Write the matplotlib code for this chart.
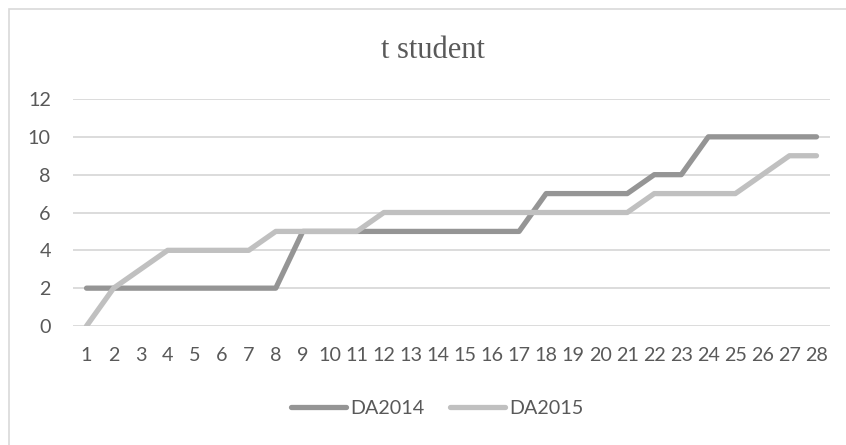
import matplotlib
matplotlib.use("Agg")
import matplotlib.pyplot as plt
from matplotlib.patches import Rectangle

# series data
days = list(range(1, 29))
da2014 = [2, 2, 2, 2, 2, 2, 2, 2, 5, 5, 5, 5, 5, 5, 5, 5, 5, 7, 7, 7, 7, 8, 8, 10, 10, 10, 10, 10]
da2015 = [0, 2, 3, 4, 4, 4, 4, 5, 5, 5, 5, 6, 6, 6, 6, 6, 6, 6, 6, 6, 6, 7, 7, 7, 7, 8, 9, 9]
y_ticks = [0, 2, 4, 6, 8, 10, 12]

W, H = 846, 445
fig = plt.figure(figsize=(W / 100, H / 100), dpi=100)

# light frame around the chart area
fig.patches.append(Rectangle((9 / W, -0.1), 1.2, 1 - 9 / H + 0.1, transform=fig.transFigure,
                             fill=False, edgecolor="#d9d9d9", linewidth=1.2))

ax = fig.add_axes([73 / W, (H - 326) / H, (830 - 73) / W, (326 - 99) / H])

ax.plot(days, da2014, color="#959595", lw=3.8, solid_capstyle="round", solid_joinstyle="round",
        label="DA2014", zorder=3)
ax.plot(days, da2015, color="#c0c0c0", lw=3.8, solid_capstyle="round", solid_joinstyle="round",
        label="DA2015", zorder=3)

ax.set_xlim(0.5, 28.5)
ax.set_ylim(0, 12)
ax.set_xticks(days)
ax.set_xticklabels([str(d) for d in days])
ax.set_yticks(y_ticks)
ax.yaxis.grid(True, color="#d9d9d9", lw=1.3)
ax.set_axisbelow(True)
for s in ax.spines.values():
    s.set_visible(False)
ax.tick_params(axis="both", length=0, labelsize=14.2, labelcolor="#595959")
ax.tick_params(axis="y", pad=16)
ax.tick_params(axis="x", pad=15)
for lab in ax.get_xticklabels() + ax.get_yticklabels():
    lab.set_fontfamily("Lato")

fig.text(433 / W, 1 - 50 / H, "t student", ha="center", va="center",
         fontsize=22, family="Liberation Serif", color="#595959")

leg = fig.legend(loc="center", bbox_to_anchor=(437 / W, 1 - 408 / H), ncol=2, frameon=False,
                 handlelength=2.8, handletextpad=0.2, columnspacing=1.3,
                 prop={"family": "Lato", "size": 14.2})
for t in leg.get_texts():
    t.set_color("#595959")

fig.savefig("out.png", dpi=100)
